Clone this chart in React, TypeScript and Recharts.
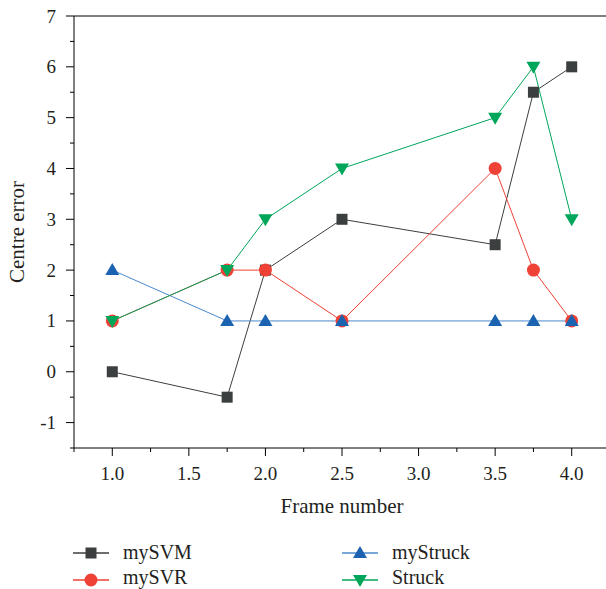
import React from 'react';
import { LineChart, Line, XAxis, YAxis, ReferenceLine } from 'recharts';

const frames = [1, 1.75, 2, 2.5, 3.5, 3.75, 4];
const mySVM = [0, -0.5, 2, 3, 2.5, 5.5, 6];
const mySVR = [1, 2, 2, 1, 4, 2, 1];
const myStruck = [2, 1, 1, 1, 1, 1, 1];
const struck = [1, 2, 3, 4, 5, 6, 3];

const xTicks = [0.75, 1, 1.25, 1.5, 1.75, 2, 2.25, 2.5, 2.75, 3, 3.25, 3.5, 3.75, 4, 4.25];
const xMajor = [1, 1.5, 2, 2.5, 3, 3.5, 4];
const yTicks = [-1.5, -1, -0.5, 0, 0.5, 1, 1.5, 2, 2.5, 3, 3.5, 4, 4.5, 5, 5.5, 6, 6.5, 7];
const yMajor = [-1, 0, 1, 2, 3, 4, 5, 6, 7];

const seriesNames = ['mySVM', 'mySVR', 'myStruck', 'Struck'];
const seriesKeys = ['mySVM', 'mySVR', 'myStruck', 'struck'];
const seriesColors = ['#3c3f3f', '#ef4136', '#1b63b0', '#00a65a'];
const lineColors = ['#3c3f3f', '#ef4136', '#4a88cc', '#00a65a'];
const markers = ['square', 'circle', 'triangle', 'down'];

const data = frames.map((f, i) => ({
  frame: f,
  mySVM: mySVM[i],
  mySVR: mySVR[i],
  myStruck: myStruck[i],
  struck: struck[i],
}));

const FONT = '"Liberation Serif", "Times New Roman", serif';

function Marker({ shape, cx, cy, color }: { shape: string; cx: number; cy: number; color: string }) {
  if (shape === 'square') return <rect x={cx - 5.5} y={cy - 5.5} width={11} height={11} fill={color} />;
  if (shape === 'circle') return <circle cx={cx} cy={cy} r={6.5} fill={color} />;
  if (shape === 'triangle')
    return <polygon points={`${cx},${cy - 7} ${cx + 7},${cy + 5} ${cx - 7},${cy + 5}`} fill={color} />;
  return <polygon points={`${cx},${cy + 7} ${cx + 7},${cy - 5} ${cx - 7},${cy - 5}`} fill={color} />;
}

const YTick = (props: any) => {
  const { x, y, payload } = props;
  const major = yMajor.includes(payload.value);
  return (
    <g>
      <line x1={x} x2={x - (major ? 8 : 4)} y1={y} y2={y} stroke="#000" strokeWidth={1} />
      {major && (
        <text x={x - 18} y={y} textAnchor="end" dominantBaseline="central" fontFamily={FONT} fontSize={19} fill="#231f20">
          {payload.value}
        </text>
      )}
    </g>
  );
};

const XTick = (props: any) => {
  const { x, y, payload } = props;
  const major = xMajor.includes(payload.value);
  return (
    <g>
      <line x1={x} x2={x} y1={y} y2={y + (major ? 8 : 4)} stroke="#000" strokeWidth={1} />
      {major && (
        <text x={x} y={y + 32} textAnchor="middle" fontFamily={FONT} fontSize={19} fill="#231f20">
          {payload.value.toFixed(1)}
        </text>
      )}
    </g>
  );
};

export default function App() {
  return (
    <div style={{ position: 'fixed', left: 0, top: 0, width: 606, height: 589, overflow: 'hidden', background: '#fff' }}>
      <LineChart width={620} height={589} data={data} margin={{ top: 16, right: 10, left: 0, bottom: 81 }}>
        <XAxis
          dataKey="frame"
          type="number"
          domain={[0.75, 4.25]}
          ticks={xTicks}
          interval={0}
          tickSize={0}
          tickMargin={0}
          tickLine={false}
          tick={<XTick />}
          height={60}
          axisLine={{ stroke: '#000', strokeWidth: 1 }}
          label={{
            content: () => (
              <text x={342} y={513} textAnchor="middle" fontFamily={FONT} fontSize={21} fill="#231f20">
                Frame number
              </text>
            ),
          }}
        />
        <YAxis
          type="number"
          domain={[-1.5, 7]}
          ticks={yTicks}
          interval={0}
          width={74}
          tickSize={0}
          tickMargin={0}
          tickLine={false}
          tick={<YTick />}
          axisLine={{ stroke: '#000', strokeWidth: 1 }}
          label={{
            content: () => (
              <text
                x={17}
                y={232}
                transform="rotate(-90, 17, 232)"
                textAnchor="middle"
                dominantBaseline="central"
                fontFamily={FONT}
                fontSize={21}
                fill="#231f20"
              >
                Centre error
              </text>
            ),
          }}
        />
        <ReferenceLine y={7} stroke="#000" strokeWidth={1} ifOverflow="visible" />
        <ReferenceLine x={4.25} stroke="#000" strokeWidth={1} ifOverflow="visible" />
        {seriesKeys.map((k, i) => (
          <Line
            key={k}
            dataKey={k}
            type="linear"
            stroke={lineColors[i]}
            strokeWidth={1}
            isAnimationActive={false}
            dot={(p: any) => <Marker key={`${k}-${p.index}`} shape={markers[i]} cx={p.cx} cy={p.cy} color={seriesColors[i]} />}
            activeDot={false}
          />
        ))}
      </LineChart>
      <svg width={606} height={589} style={{ position: 'absolute', left: 0, top: 0, pointerEvents: 'none' }}>
        {seriesNames.map((name, i) => {
          const col = i < 2 ? 0 : 1;
          const row = i % 2;
          const x0 = col === 0 ? 73 : 342;
          const y0 = row === 0 ? 553 : 580;
          const base = row === 0 ? 559 : 584;
          return (
            <g key={name}>
              <line x1={x0} x2={x0 + 36} y1={y0} y2={y0} stroke={lineColors[i]} strokeWidth={1.5} />
              <Marker shape={markers[i]} cx={x0 + 18} cy={y0} color={seriesColors[i]} />
              <text x={x0 + 50} y={base} fontFamily={FONT} fontSize={20} fill="#231f20">
                {name}
              </text>
            </g>
          );
        })}
      </svg>
    </div>
  );
}
